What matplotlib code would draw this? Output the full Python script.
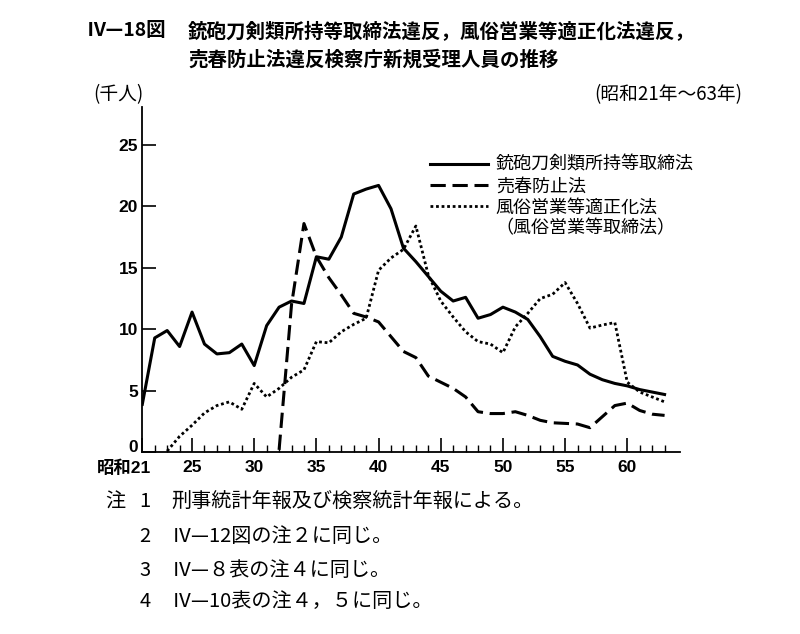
import matplotlib
matplotlib.use('Agg')
import matplotlib.pyplot as plt
import matplotlib.transforms as mtransforms
from matplotlib.lines import Line2D
import numpy as np

plt.rcParams['font.family'] = ['Noto Sans CJK JP', 'DejaVu Sans']

# ---- data (thousand persons), Showa 21 - 63 ----
years = list(range(21, 64))
firearms = [3.9, 9.3, 9.9, 8.6, 11.4, 8.8, 8.0, 8.1, 8.8, 7.05,
            10.3, 11.8, 12.3, 12.1, 15.9, 15.7, 17.5, 21.0, 21.4, 21.7,
            19.8, 16.6, 15.5, 14.3, 13.1, 12.3, 12.6, 10.9, 11.2, 11.8,
            11.4, 10.8, 9.4, 7.8, 7.4, 7.1, 6.35, 5.9, 5.6, 5.4,
            5.1, 4.9, 4.7]
prostitution = [None, None, None, None, None, None, None, None, None, None,
                None, 0.2, 12.0, 18.6, 15.9, 14.2, 12.8, 11.3, 11.0, 10.6,
                9.4, 8.2, 7.7, 6.2, 5.7, 5.2, 4.5, 3.3, 3.15, 3.15,
                3.3, 3.0, 2.6, 2.4, 2.35, 2.3, 2.0, 2.9, 3.8, 4.0,
                3.4, 3.1, 3.0]
fuzoku = [None, None, 0.1, 1.3, 2.2, 3.2, 3.8, 4.1, 3.5, 5.6,
          4.5, 5.2, 6.1, 6.7, 9.0, 8.9, 9.8, 10.4, 10.9, 14.8,
          15.8, 16.5, 18.4, 14.4, 12.3, 11.0, 9.8, 9.0, 8.8, 8.1,
          10.2, 11.3, 12.5, 12.85, 13.8, 12.1, 10.1, 10.35, 10.55, 5.7,
          4.9, 4.5, 4.1]

x_major = [21, 25, 30, 35, 40, 45, 50, 55, 60]
x_labels = ['昭和21', '25', '30', '35', '40', '45', '50', '55', '60']
y_ticks = [0, 5, 10, 15, 20, 25]

series_labels = ['銃砲刀剣類所持等取締法', '売春防止法', '風俗営業等適正化法', '（風俗営業等取締法）']

title_num = 'Ⅳ—18図'
title_l1 = '銃砲刀剣類所持等取締法違反，風俗営業等適正化法違反，'
title_l2 = '売春防止法違反検察庁新規受理人員の推移'
unit_label = '(千人)'
period_label = '(昭和21年～63年)'
notes = [('注', '1', '刑事統計年報及び検察統計年報による。'),
         ('', '2', 'Ⅳ—12図の注２に同じ。'),
         ('', '3', 'Ⅳ—８表の注４に同じ。'),
         ('', '4', 'Ⅳ—10表の注４，５に同じ。')]

W, H = 800, 634


def fx(px):
    return px / W


def fy(py):
    return 1 - py / H


def arr(v):
    return np.array([np.nan if a is None else a for a in v], dtype=float)


fig = plt.figure(figsize=(W / 100, H / 100), dpi=100)
ax = fig.add_axes([fx(142.3), fy(452.3), (680 - 142.3) / W, (452.3 - 106.7) / H])

l1, = ax.plot(years, arr(firearms), color='black', lw=2.2, solid_joinstyle='round')
l2, = ax.plot(years, arr(prostitution), color='black', lw=2.2,
              linestyle=(0, (5, 2.2)), dash_capstyle='butt')
l3, = ax.plot(years, arr(fuzoku), color='black', lw=2.0,
              linestyle=(0, (1, 1)), dash_capstyle='butt')

ax.set_xlim(21, 64.24)
ax.set_ylim(0, 28.1)

for s in ['top', 'right']:
    ax.spines[s].set_visible(False)
for s in ['left', 'bottom']:
    ax.spines[s].set_linewidth(1.3)

ax.set_xticks(x_major)
ax.set_xticks(years, minor=True)
ax.set_yticks(y_ticks)
ax.tick_params(axis='x', which='major', direction='in', length=10, width=1.2, pad=5.5)
ax.tick_params(axis='x', which='minor', direction='in', length=5, width=1.0)
ax.tick_params(axis='y', which='major', direction='in', length=10, width=1.2, pad=3)

num_font = dict(family=['Liberation Sans', 'Noto Sans CJK JP'], fontsize=12.5, fontweight='bold')
ax.set_xticklabels(x_labels, **num_font)
ax.set_yticklabels([str(t) for t in y_ticks], **num_font)
first = ax.get_xticklabels()[0]
first.set_horizontalalignment('right')
first.set_transform(first.get_transform() +
                    mtransforms.ScaledTranslation(9 / 100, 0, fig.dpi_scale_trans))
zero = ax.get_yticklabels()[0]
zero.set_transform(zero.get_transform() +
                   mtransforms.ScaledTranslation(0, 6 / 100, fig.dpi_scale_trans))

blank = Line2D([], [], linestyle='none')
leg = ax.legend([l1, l2, l3, blank], series_labels,
                loc='upper left', bbox_to_anchor=(fx(430), fy(156)),
                bbox_transform=fig.transFigure, frameon=False,
                fontsize=13, handlelength=3.2, handletextpad=0.45,
                labelspacing=0.18, borderpad=0, borderaxespad=0)

# titles
fig.text(fx(87), fy(30.7), title_num, fontsize=14, fontweight='bold', va='center', ha='left')
fig.text(fx(188), fy(30.7), title_l1, fontsize=14, fontweight='bold', va='center', ha='left')
fig.text(fx(188), fy(59.3), title_l2, fontsize=14, fontweight='bold', va='center', ha='left')
fig.text(fx(93), fy(95), unit_label, fontsize=13.5, va='center', ha='left')
fig.text(fx(742), fy(95), period_label, fontsize=13.5, va='center', ha='right')

# notes
note_y = [501.7, 536, 570, 601.7]
for (a, b, c), yy in zip(notes, note_y):
    if a:
        fig.text(fx(105), fy(yy), a, fontsize=14.5, va='center', ha='left')
    fig.text(fx(145), fy(yy), b, fontsize=14.5, va='center', ha='center')
    fig.text(fx(171.7), fy(yy), c, fontsize=14.5, va='center', ha='left')

fig.savefig('out.png', dpi=100)
